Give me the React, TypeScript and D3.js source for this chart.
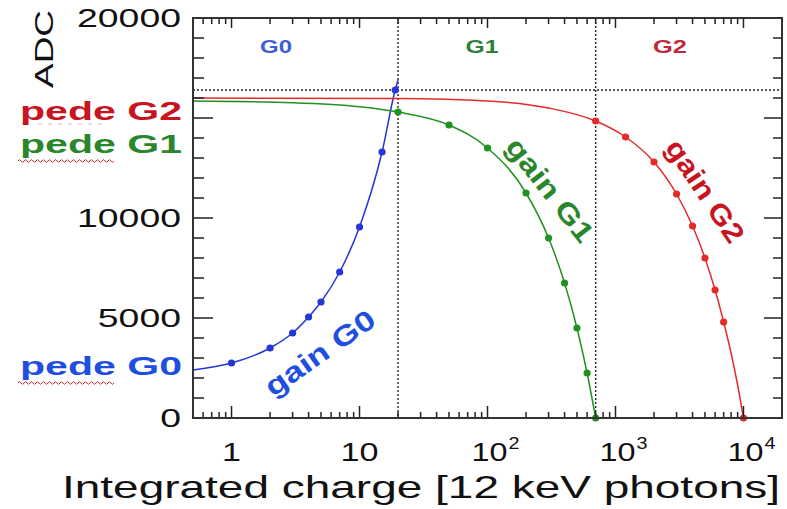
import * as d3 from 'd3'

// measured points (marker positions)
const g0Charge = [1, 2, 3, 4, 5, 7, 10, 15, 19]
const g0Adc = [2750, 3500, 4250, 5050, 5800, 7300, 9550, 13300, 16400]
const g1Charge = [20, 50, 100, 200, 300, 400, 500, 600, 700]
const g1Adc = [15300, 14650, 13500, 11250, 9000, 6750, 4500, 2250, 0]
const g2Charge = [700, 1200, 2000, 3000, 4000, 5000, 6000, 7000, 10000]
const g2Adc = [14850, 14050, 12800, 11200, 9600, 8000, 6400, 4800, 0]

// extra points on the fitted curves (no markers there)
const g0LineCharge = [0.5, 20]
const g0LineAdc = [2400, 16900]
const g1LineCharge = [0.5, 3, 10]
const g1LineAdc = [15850, 15760, 15560]
const g2LineCharge = [0.5, 20, 100, 300, 8000, 9000]
const g2LineAdc = [16000, 15970, 15850, 15500, 3250, 1650]

const gainSwitch = [20, 700]
const saturation = 16400

const xMajor = [1, 10, 100, 1000, 10000]
const xBase = ['1', '10', '10', '10', '10']
const xExp = ['', '', '2', '3', '4']
const yLabels = [0, 5000, 10000, 20000]

const W = 787
const H = 509
const L = 193, R = 782, T = 18, B = 418
const FONT = 'Liberation Sans, Arial, Helvetica, sans-serif'

const BLUE = '#2436d4'
const GREEN = '#1f921f'
const RED = '#e62a2a'

function wave(x0: number, x1: number, y: number) {
  let d = `M${x0},${y}`
  for (let x = x0; x < x1; x += 6) d += ` q1.5,-2.6 3,0 q1.5,2.6 3,0`
  return d
}

export default function App() {
  const x = d3.scaleLog().domain([0.5, 20000]).range([L, R])
  const y = d3.scaleLinear().domain([0, 20000]).range([B, T])

  const line = d3.line<[number, number]>()
    .x(d => x(d[0]))
    .y(d => y(d[1]))
    .curve(d3.curveMonotoneX)

  const pts = (cs: number[], as: number[]) => cs.map((c, i) => [c, as[i]] as [number, number])
  const curve = (cs: number[], as: number[], lc: number[], la: number[]) =>
    [...pts(cs, as), ...pts(lc, la)].sort((a, b) => a[0] - b[0])

  const series = [
    { color: BLUE, marks: pts(g0Charge, g0Adc), path: curve(g0Charge, g0Adc, g0LineCharge, g0LineAdc) },
    { color: GREEN, marks: pts(g1Charge, g1Adc), path: curve(g1Charge, g1Adc, g1LineCharge, g1LineAdc) },
    { color: RED, marks: pts(g2Charge, g2Adc), path: curve(g2Charge, g2Adc, g2LineCharge, g2LineAdc) },
  ]

  const xTicks = x.ticks()
  const isMajorX = (v: number) => Math.abs(Math.log10(v) - Math.round(Math.log10(v))) < 1e-9
  const yTicks = y.ticks(20)

  return (
    <svg width={W} height={H} style={{ position: 'absolute', left: 0, top: 0, background: '#fff' }}
      fontFamily={FONT}>
      <rect x={0} y={0} width={W} height={H} fill="#fff" />

      {/* dotted guides */}
      <line x1={L} x2={R} y1={y(saturation)} y2={y(saturation)} stroke="#222" strokeWidth={1.4} strokeDasharray="2,2" />
      {gainSwitch.map(v => (
        <line key={v} x1={x(v)} x2={x(v)} y1={T} y2={B} stroke="#222" strokeWidth={1.4} strokeDasharray="2,2" />
      ))}

      {/* curves */}
      {series.map((s, i) => (
        <g key={i}>
          <path d={line(s.path) || ''} fill="none" stroke={s.color} strokeWidth={1.5} />
          {s.marks.map((p, j) => (
            <circle key={j} cx={x(p[0])} cy={y(p[1])} r={3.6} fill={s.color} />
          ))}
        </g>
      ))}

      {/* ticks */}
      <g stroke="#222" strokeWidth={1.5}>
        {xTicks.map((v, i) => {
          const m = isMajorX(v)
          return (
            <g key={i}>
              <line x1={x(v)} x2={x(v)} y1={B} y2={B - (m ? 12 : 6)} />
              <line x1={x(v)} x2={x(v)} y1={T} y2={T + (m ? 10 : 6)} />
            </g>
          )
        })}
        {yTicks.map((v, i) => {
          const m = v % 5000 === 0
          return (
            <g key={i}>
              <line x1={L} x2={L + (m ? 20 : 11)} y1={y(v)} y2={y(v)} />
              <line x1={R} x2={R - (m ? 18 : 9)} y1={y(v)} y2={y(v)} />
            </g>
          )
        })}
      </g>
      <rect x={L} y={T} width={R - L} height={B - T} fill="none" stroke="#333" strokeWidth={2} />

      {/* y tick labels */}
      {yLabels.map(v => {
        const s = String(v)
        return (
          <text key={v} x={181} y={y(v) + 9} textAnchor="end" fontSize={25} fill="#111"
            textLength={s.length * 20.8} lengthAdjust="spacingAndGlyphs">{s}</text>
        )
      })}

      {/* x tick labels */}
      {xMajor.map((v, i) => {
        const cx = x(v)
        if (!xExp[i]) {
          const w = xBase[i].length * 19
          return (
            <text key={v} x={cx} y={461} textAnchor="middle" fontSize={26} fill="#111"
              textLength={w} lengthAdjust="spacingAndGlyphs">{xBase[i]}</text>
          )
        }
        return (
          <g key={v} fill="#111">
            <text x={cx - 16} y={461} fontSize={26} textLength={36} lengthAdjust="spacingAndGlyphs">{xBase[i]}</text>
            <text x={cx + 21} y={449} fontSize={16} textLength={11} lengthAdjust="spacingAndGlyphs">{xExp[i]}</text>
          </g>
        )
      })}

      {/* axis titles */}
      <text x={62} y={498} fontSize={32} fill="#111" textLength={718} lengthAdjust="spacingAndGlyphs">
        Integrated charge [12 keV photons]
      </text>
      <text transform="translate(53,49) rotate(-90)" textAnchor="middle" fontSize={25} fill="#111"
        textLength={78} lengthAdjust="spacingAndGlyphs">ADC</text>

      {/* region labels */}
      <g fontWeight="bold" fontSize={18}>
        <text x={276} y={53} textAnchor="middle" fill="#3d5ed4" textLength={32} lengthAdjust="spacingAndGlyphs">G0</text>
        <text x={482} y={53} textAnchor="middle" fill="#2f7f37" textLength={33} lengthAdjust="spacingAndGlyphs">G1</text>
        <text x={670} y={53} textAnchor="middle" fill="#bf2a3a" textLength={34} lengthAdjust="spacingAndGlyphs">G2</text>
      </g>

      {/* pedestal labels */}
      <g fontWeight="bold" fontSize={25}>
        <text x={20} y={120} fill="#c8141e" textLength={162} lengthAdjust="spacingAndGlyphs">pede G2</text>
        <text x={20} y={153} fill="#2a862a" textLength={162} lengthAdjust="spacingAndGlyphs">pede G1</text>
        <text x={20} y={375} fill="#1f4fe0" textLength={162} lengthAdjust="spacingAndGlyphs">pede G0</text>
      </g>
      <path d={wave(18, 114, 161)} fill="none" stroke="#d42a2a" strokeWidth={1} />
      <path d={wave(18, 114, 383)} fill="none" stroke="#d42a2a" strokeWidth={1} />
      <line x1={38} x2={102} y1={124} y2={124} stroke="#d99" strokeWidth={1} strokeDasharray="4,6" opacity={0.7} />

      {/* gain labels */}
      <g fontWeight="bold" fontSize={28}>
        <text transform="translate(320,353) rotate(-35)" textAnchor="middle" dominantBaseline="central"
          fill="#1f4fe0" textLength={128} lengthAdjust="spacingAndGlyphs">gain G0</text>
        <text transform="translate(550,190) rotate(52)" textAnchor="middle" dominantBaseline="central"
          fill="#2a862a" textLength={124} lengthAdjust="spacingAndGlyphs">gain G1</text>
        <text transform="translate(705,191) rotate(56)" textAnchor="middle" dominantBaseline="central"
          fill="#c8141e" textLength={118} lengthAdjust="spacingAndGlyphs">gain G2</text>
      </g>
    </svg>
  )
}
